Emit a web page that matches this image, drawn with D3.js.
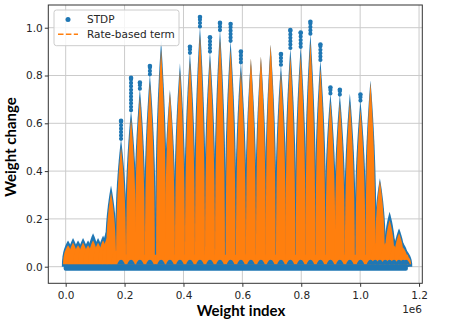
<!DOCTYPE html>
<html>
<head>
<meta charset="utf-8">
<script src="https://cdn.jsdelivr.net/npm/d3@7"></script>
<style>
  body { margin: 0; background: #fff; }
  svg { display: block; }
</style>
</head>
<body>
<svg id="chart" width="458" height="328"></svg>
<script>
// Each block of weights: its position, the highest STDP point and the highest rate-based value
const peakIndex = [
  8e3, 25e3, 42e3, 59e3, 76e3, 93e3, 110e3, 127e3, 140e3, 154e3, 171e3,
  188e3, 222e3, 252e3, 286e3, 324e3, 354e3, 388e3, 422e3, 456e3, 490e3, 524e3, 560e3, 595e3,
  629e3, 663e3, 696e3, 731e3, 763e3, 798e3, 831e3, 865e3, 899e3, 931e3, 965e3, 1001e3, 1035e3,
  1051e3, 1067e3, 1085e3, 1100e3, 1115e3, 1132e3, 1146e3, 1156e3
];
const stdpPeak = [
  0.11, 0.12, 0.11, 0.12, 0.11, 0.14, 0.12, 0.13, 0.16, 0.34, 0.10,
  0.61, 0.79, 0.77, 0.84, 0.95, 0.74, 0.85, 0.92, 1.045, 0.96, 1.02, 1.015, 0.90,
  0.86, 0.81, 0.93, 0.89, 0.99, 0.98, 1.025, 0.93, 0.75, 0.74, 0.727, 0.72, 0.78,
  0.14, 0.37, 0.12, 0.23, 0.12, 0.16, 0.10, 0.07
];
const ratePeak = [
  0.09, 0.10, 0.09, 0.10, 0.09, 0.11, 0.10, 0.11, 0.12, 0.31, 0.07,
  0.50, 0.62, 0.71, 0.77, 0.91, 0.73, 0.82, 0.86, 0.97, 0.865, 0.955, 0.91, 0.82,
  0.87, 0.88, 0.93, 0.81, 0.88, 0.885, 0.94, 0.83, 0.69, 0.685, 0.69, 0.66, 0.77,
  0.10, 0.36, 0.10, 0.195, 0.09, 0.14, 0.08, 0.05
];
// range of the weight index and the low floor of the STDP cloud
const indexExtent = [0, 1.162e6];
const stdpFloor = [-0.017, 0.009];

const xTicks = [0, 0.2e6, 0.4e6, 0.6e6, 0.8e6, 1.0e6, 1.2e6];
const yTicks = [0, 0.2, 0.4, 0.6, 0.8, 1.0];

const blue = "#1f77b4", orange = "#ff7f0e";

const svg = d3.select("#chart");
const margin = { top: 5, left: 48.3 };
const width = 374, height = 278.3;

const g = svg.append("g").attr("transform", `translate(${margin.left},${margin.top})`);

const x = d3.scaleLinear().domain([-0.059e6, 1.211e6]).range([0, width]);
const y = d3.scaleLinear().domain([-0.0695, 1.095]).range([height, 0]);

svg.append("defs").append("clipPath").attr("id", "clip")
  .append("rect").attr("width", width).attr("height", height);

// grid
g.append("g").selectAll("line").data(xTicks).join("line")
  .attr("x1", d => x(d)).attr("x2", d => x(d))
  .attr("y1", 0).attr("y2", height)
  .attr("stroke", "#cbcbcb").attr("stroke-width", 1);
g.append("g").selectAll("line").data(yTicks).join("line")
  .attr("y1", d => y(d)).attr("y2", d => y(d))
  .attr("x1", 0).attr("x2", width)
  .attr("stroke", "#cbcbcb").attr("stroke-width", 1);

const peaks = peakIndex.map((d, i) => ({ idx: d, stdp: stdpPeak[i], rate: ratePeak[i] }));

// spike outline: wide at the floor, narrow at the top
const levels = [0, 0.2, 0.4, 0.55, 0.65, 0.75, 0.83, 0.9, 0.95, 1];
function spike(cx, base, top, hw0, p) {
  const hw = f => hw0 * (1 - Math.pow(f, p)) + 0.4 * (1 - f);
  const left = levels.map(f => [cx - hw(f), y(base + (top - base) * f)]);
  const right = levels.slice().reverse().map(f => [cx + hw(f), y(base + (top - base) * f)]);
  return d3.line()(left.concat(right)) + "Z";
}

const plot = g.append("g").attr("clip-path", "url(#clip)");

// STDP cloud around each block
const bodyTop = d => Math.min(Math.max(d.stdp, d.rate), d.rate + 0.035);
plot.append("g").selectAll("path").data(peaks).join("path")
  .attr("d", d => spike(x(d.idx), 0, bodyTop(d), 5.8, 2.6))
  .attr("fill", blue);

// sparse STDP points above the rate-based term
const tall = peaks.filter(d => d.stdp > bodyTop(d) + 0.01);
plot.append("g").selectAll("line").data(tall).join("line")
  .attr("x1", d => x(d.idx)).attr("x2", d => x(d.idx))
  .attr("y1", d => y(bodyTop(d))).attr("y2", d => y(d.stdp))
  .attr("stroke", blue).attr("stroke-width", 4.2)
  .attr("stroke-linecap", "round").attr("stroke-dasharray", "0 3.4");
plot.append("g").selectAll("circle").data(tall).join("circle")
  .attr("cx", d => x(d.idx)).attr("cy", d => y(d.stdp)).attr("r", 2.3)
  .attr("fill", blue);

// rate-based term
plot.append("rect")
  .attr("x", x(peakIndex[0]) - 3).attr("width", x(peakIndex[peakIndex.length - 1]) - x(peakIndex[0]) + 5)
  .attr("y", y(0.05)).attr("height", y(0.01) - y(0.05))
  .attr("fill", orange);
plot.append("g").selectAll("path").data(peaks).join("path")
  .attr("d", d => spike(x(d.idx), 0.01, d.rate, 4.6, 2.6))
  .attr("fill", orange);

// STDP floor band with the small bumps at each block
plot.append("rect")
  .attr("x", x(indexExtent[0]) - 2).attr("width", x(indexExtent[1]) - x(indexExtent[0]) + 2)
  .attr("y", y(stdpFloor[1])).attr("height", y(stdpFloor[0]) - y(stdpFloor[1]))
  .attr("rx", 2)
  .attr("fill", blue);
plot.append("g").selectAll("path").data(peaks.filter(d => d.idx >= 188e3)).join("path")
  .attr("d", d => {
    const cx = x(d.idx);
    return d3.line().curve(d3.curveBasis)([[cx - 4, y(stdpFloor[1])], [cx - 1.5, y(0.03)], [cx + 1.5, y(0.03)], [cx + 4, y(stdpFloor[1])]]) + "Z";
  })
  .attr("fill", blue);

// axes
const tickFont = "DejaVu Sans, sans-serif";
const xAxis = g.append("g").attr("transform", `translate(0,${height})`)
  .call(d3.axisBottom(x).tickValues(xTicks).tickFormat(d => (d / 1e6).toFixed(1)).tickSize(3.5).tickPadding(4.5));
const yAxis = g.append("g")
  .call(d3.axisLeft(y).tickValues(yTicks).tickFormat(d => d.toFixed(1)).tickSize(3.5).tickPadding(2));
[xAxis, yAxis].forEach(a => {
  a.select(".domain").remove();
  a.selectAll("line").attr("stroke", "#333");
  a.selectAll("text").attr("fill", "#262626").style("font-family", tickFont).style("font-size", "10.5px");
});

g.append("rect").attr("width", width).attr("height", height)
  .attr("fill", "none").attr("stroke", "#333").attr("stroke-width", 1);

svg.append("text").attr("x", 422).attr("y", 313).attr("text-anchor", "end")
  .style("font-family", tickFont).style("font-size", "10.5px").attr("fill", "#262626")
  .text("1e6");

// axis titles
svg.append("text").attr("x", 241).attr("y", 316).attr("text-anchor", "middle")
  .style("font-family", "Lato, sans-serif").style("font-weight", "bold").style("font-size", "15px")
  .text("Weight index");
svg.append("text").attr("transform", "translate(15.5,147) rotate(-90)").attr("text-anchor", "middle")
  .style("font-family", "Lato, sans-serif").style("font-weight", "bold").style("font-size", "15px")
  .text("Weight change");

// legend
const lg = svg.append("g");
lg.append("rect").attr("x", 54).attr("y", 10).attr("width", 125).attr("height", 35.7).attr("rx", 2.5)
  .attr("fill", "#fff").attr("fill-opacity", 0.8).attr("stroke", "#cccccc").attr("stroke-width", 1);
lg.append("circle").attr("cx", 68).attr("cy", 19.4).attr("r", 2.5).attr("fill", blue);
lg.append("line").attr("x1", 58).attr("x2", 78).attr("y1", 34.3).attr("y2", 34.3)
  .attr("stroke", orange).attr("stroke-width", 1.6).attr("stroke-dasharray", "5.5 2.4");
lg.selectAll("text.lab").data(["STDP", "Rate-based term"]).join("text")
  .attr("class", "lab")
  .attr("x", 87).attr("y", (d, i) => 19.4 + i * 14.9).attr("dy", "0.35em")
  .style("font-family", tickFont).style("font-size", "10.5px").attr("fill", "#262626")
  .text(d => d);
</script>
</body>
</html>
